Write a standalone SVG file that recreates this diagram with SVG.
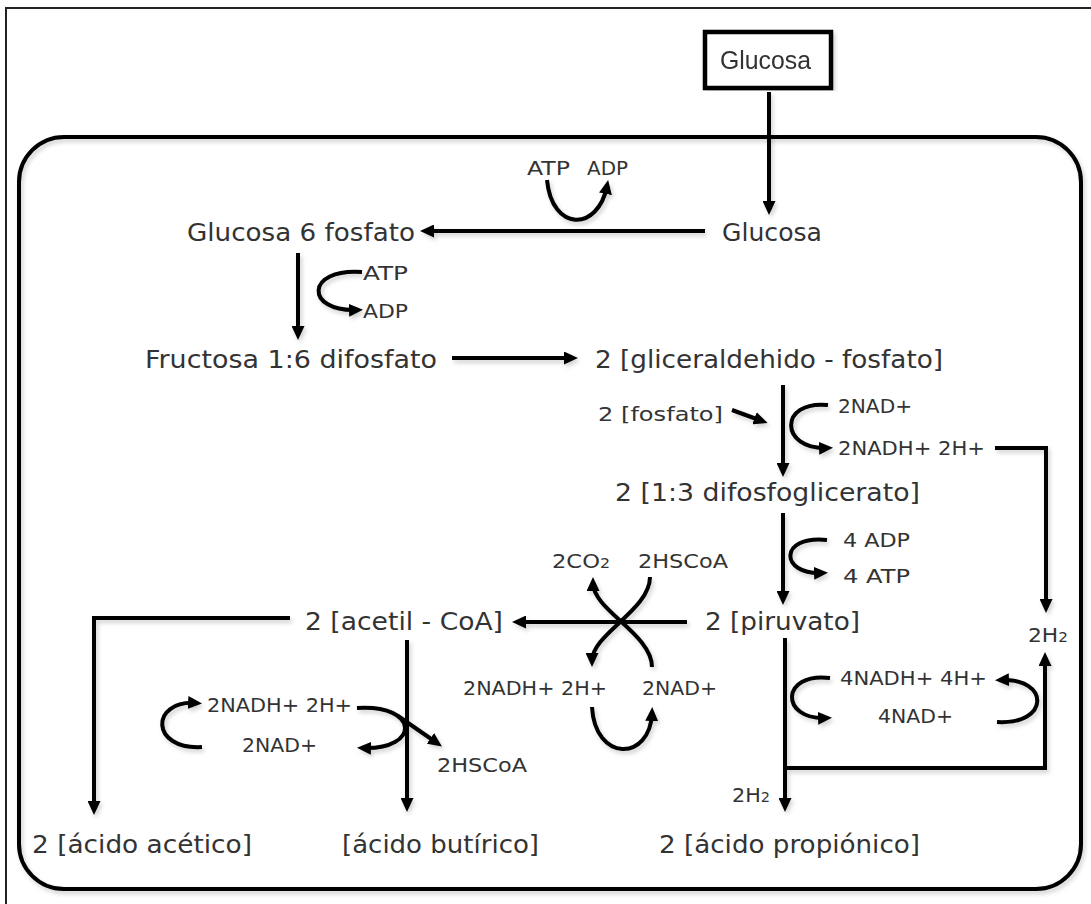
<svg xmlns="http://www.w3.org/2000/svg" width="1091" height="904" viewBox="0 0 1091 904">
<style>
  .big { font-family: "DejaVu Sans", Verdana, sans-serif; font-size: 25px; fill: #333; }
  .sm { font-family: "DejaVu Sans", Verdana, sans-serif; font-size: 20px; fill: #333; }
  .ln { fill: none; stroke: #000; stroke-width: 4; }
  .arr { fill: none; stroke: #000; stroke-width: 4; marker-end: url(#ah); }
  .sub { font-size: 14px; }
</style>
<defs>
  <marker id="ah" viewBox="0 0 14 13" refX="8" refY="6.5" markerWidth="14" markerHeight="13" markerUnits="userSpaceOnUse" orient="auto">
    <path d="M0,0 L14,6.5 L0,13 z" fill="#000"/>
  </marker>
  <filter id="sh" x="-5%" y="-5%" width="110%" height="110%">
    <feDropShadow dx="2" dy="3" stdDeviation="2" flood-color="#000" flood-opacity="0.18"/>
  </filter>
</defs>
<rect x="0" y="0" width="1091" height="904" fill="#fff"/>
<rect x="6" y="8" width="1100" height="910" fill="none" stroke="#222" stroke-width="2"/>
<g id="container" filter="url(#sh)">
  <rect x="19" y="137" width="1062" height="752" rx="45" ry="45" fill="none" stroke="#000" stroke-width="4"/>
</g>

<g id="n-glucosa-box" filter="url(#sh)">
  <rect x="705" y="32" width="126" height="56" fill="#fff" stroke="#000" stroke-width="4.5"/>
  <text x="720" y="69" font-family="Liberation Sans, Arial, sans-serif" font-size="25" fill="#333" textLength="91" lengthAdjust="spacingAndGlyphs">Glucosa</text>
</g>

<g id="connectors" filter="url(#sh)">
  <path class="arr" d="M769,92 V209"/>
  <path class="arr" d="M705,231 H426"/>
  <path class="arr" d="M547,180 C552,232 598,232 607,186"/>
  <path class="arr" d="M298,253 V334"/>
  <path class="arr" d="M362,272 C305,268 305,312 357,310"/>
  <path class="arr" d="M452,358 H572"/>
  <path class="arr" d="M783,385 V471"/>
  <path class="arr" d="M732,410 L762,421"/>
  <path class="arr" d="M828,405 C778,400 780,450 827,448"/>
  <path class="arr" d="M995,448 H1046 V607"/>
  <path class="arr" d="M783,513 V599"/>
  <path class="arr" d="M827,540 C778,535 780,575 822,573"/>
  <path class="arr" d="M687,622 H518"/>
  <path class="arr" d="M650,577 C650,610 592,634 592,661"/>
  <path class="arr" d="M652,667 C652,634 593,610 593,583"/>
  <path class="arr" d="M592,707 C595,762 650,762 652,713"/>
  <path class="arr" d="M290,618 H94 V809"/>
  <path class="arr" d="M407,640 V806"/>
  <path class="arr" d="M202,747 C150,750 150,700 196,703"/>
  <path class="arr" d="M357,708 C420,704 420,750 363,748"/>
  <path class="arr" d="M398,716 L437,743"/>
  <path class="arr" d="M785,638 V806"/>
  <path class="arr" d="M830,678 C780,672 780,720 826,718"/>
  <path class="arr" d="M997,722 C1050,725 1050,678 1001,680"/>
  <path class="arr" d="M785,768 H1045 V658"/>
</g>

<g id="n-glucosa"><text class="big" x="722" y="241" textLength="100" lengthAdjust="spacingAndGlyphs">Glucosa</text></g>
<g id="n-atp-adp-1"><text class="sm" x="527" y="175" textLength="43" lengthAdjust="spacingAndGlyphs">ATP</text><text class="sm" x="587" y="175" textLength="41" lengthAdjust="spacingAndGlyphs">ADP</text></g>
<g id="n-g6p"><text class="big" x="187" y="241" textLength="228" lengthAdjust="spacingAndGlyphs">Glucosa 6 fosfato</text></g>
<g id="n-atp-adp-2"><text class="sm" x="363" y="280" textLength="45" lengthAdjust="spacingAndGlyphs">ATP</text><text class="sm" x="363" y="318" textLength="45" lengthAdjust="spacingAndGlyphs">ADP</text></g>
<g id="n-f16"><text class="big" x="145" y="368" textLength="292" lengthAdjust="spacingAndGlyphs">Fructosa 1:6 difosfato</text></g>
<g id="n-gliceraldehido"><text class="big" x="595" y="368" textLength="348" lengthAdjust="spacingAndGlyphs">2 [gliceraldehido - fosfato]</text></g>
<g id="n-fosfato"><text class="sm" x="598" y="421" textLength="125" lengthAdjust="spacingAndGlyphs">2 [fosfato]</text></g>
<g id="n-nad-1"><text class="sm" x="838" y="413" textLength="74" lengthAdjust="spacingAndGlyphs">2NAD+</text><text class="sm" x="838" y="455" textLength="147" lengthAdjust="spacingAndGlyphs">2NADH+ 2H+</text></g>
<g id="n-difosfoglicerato"><text class="big" x="615" y="501" textLength="305" lengthAdjust="spacingAndGlyphs">2 [1:3 difosfoglicerato]</text></g>
<g id="n-adp-atp-4"><text class="sm" x="843" y="547" textLength="67" lengthAdjust="spacingAndGlyphs">4 ADP</text><text class="sm" x="843" y="583" textLength="67" lengthAdjust="spacingAndGlyphs">4 ATP</text></g>
<g id="n-co2"><text class="sm" x="552" y="568" textLength="58" lengthAdjust="spacingAndGlyphs">2CO<tspan class="sub">2</tspan></text><text class="sm" x="638" y="568" textLength="90" lengthAdjust="spacingAndGlyphs">2HSCoA</text></g>
<g id="n-acetil"><text class="big" x="305" y="630" textLength="198" lengthAdjust="spacingAndGlyphs">2 [acetil - CoA]</text></g>
<g id="n-piruvato"><text class="big" x="705" y="630" textLength="155" lengthAdjust="spacingAndGlyphs">2 [piruvato]</text></g>
<g id="n-h2-right"><text class="sm" x="1028" y="642" textLength="40" lengthAdjust="spacingAndGlyphs">2H<tspan class="sub">2</tspan></text></g>
<g id="n-nad-mid"><text class="sm" x="463" y="695" textLength="144" lengthAdjust="spacingAndGlyphs">2NADH+ 2H+</text><text class="sm" x="642" y="695" textLength="75" lengthAdjust="spacingAndGlyphs">2NAD+</text></g>
<g id="n-nad-right"><text class="sm" x="840" y="685" textLength="147" lengthAdjust="spacingAndGlyphs">4NADH+ 4H+</text><text class="sm" x="878" y="723" textLength="75" lengthAdjust="spacingAndGlyphs">4NAD+</text></g>
<g id="n-nad-left"><text class="sm" x="207" y="712" textLength="145" lengthAdjust="spacingAndGlyphs">2NADH+ 2H+</text><text class="sm" x="242" y="752" textLength="75" lengthAdjust="spacingAndGlyphs">2NAD+</text></g>
<g id="n-hscoa-left"><text class="sm" x="437" y="772" textLength="90" lengthAdjust="spacingAndGlyphs">2HSCoA</text></g>
<g id="n-h2-bottom"><text class="sm" x="732" y="802" textLength="38" lengthAdjust="spacingAndGlyphs">2H<tspan class="sub">2</tspan></text></g>
<g id="n-acetico"><text class="big" x="32" y="853" textLength="220" lengthAdjust="spacingAndGlyphs">2 [ácido acético]</text></g>
<g id="n-butirico"><text class="big" x="342" y="853" textLength="197" lengthAdjust="spacingAndGlyphs">[ácido butírico]</text></g>
<g id="n-propionico"><text class="big" x="659" y="853" textLength="261" lengthAdjust="spacingAndGlyphs">2 [ácido propiónico]</text></g>
</svg>
